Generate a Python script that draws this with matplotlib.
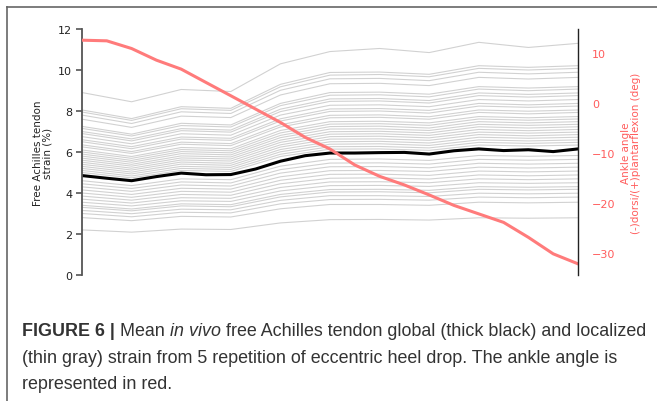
import matplotlib
matplotlib.use("Agg")
import matplotlib.pyplot as plt
from matplotlib.lines import Line2D

# time base (% of the eccentric heel drop)
t_coarse = [0, 10, 20, 30, 40, 50, 60, 70, 80, 90, 100]
t_fine = [0, 5, 10, 15, 20, 25, 30, 35, 40, 45, 50,
          55, 60, 65, 70, 75, 80, 85, 90, 95, 100]

# localized strain (%), one row per tendon region
local_strain = [
    [8.9, 8.45, 9.05, 8.95, 10.3, 10.9, 11.05, 10.85, 11.35, 11.1, 11.3],
    [8.05, 7.63, 8.21, 8.13, 9.30, 9.88, 9.90, 9.79, 10.21, 10.13, 10.21],
    [7.95, 7.54, 8.11, 8.03, 9.18, 9.75, 9.78, 9.67, 10.08, 10.0, 10.08],
    [7.8, 7.39, 7.96, 7.88, 9.01, 9.57, 9.59, 9.48, 9.89, 9.81, 9.89],
    [7.6, 7.2, 7.75, 7.68, 8.78, 9.33, 9.35, 9.24, 9.64, 9.56, 9.64],
    [7.25, 6.87, 7.4, 7.32, 8.37, 8.9, 8.92, 8.82, 9.19, 9.12, 9.19],
    [7.15, 6.78, 7.29, 7.22, 8.26, 8.77, 8.79, 8.69, 9.07, 8.99, 9.07],
    [7.0, 6.64, 7.14, 7.07, 8.09, 8.59, 8.61, 8.51, 8.88, 8.81, 8.88],
    [6.9, 6.54, 7.04, 6.97, 7.97, 8.47, 8.49, 8.39, 8.75, 8.68, 8.75],
    [6.75, 6.4, 6.89, 6.82, 7.8, 8.28, 8.3, 8.21, 8.56, 8.49, 8.56],
    [6.6, 6.26, 6.73, 6.67, 7.62, 8.1, 8.12, 8.03, 8.37, 8.3, 8.37],
    [6.5, 6.16, 6.63, 6.57, 7.51, 7.98, 8.0, 7.9, 8.24, 8.18, 8.24],
    [6.35, 6.02, 6.48, 6.41, 7.33, 7.79, 7.81, 7.72, 8.05, 7.99, 8.05],
    [6.25, 5.93, 6.38, 6.31, 7.22, 7.67, 7.69, 7.6, 7.93, 7.86, 7.93],
    [6.1, 5.78, 6.22, 6.16, 7.05, 7.48, 7.5, 7.42, 7.73, 7.67, 7.73],
    [6.0, 5.69, 6.12, 6.06, 6.93, 7.36, 7.38, 7.3, 7.61, 7.55, 7.61],
    [5.9, 5.59, 6.02, 5.96, 6.81, 7.24, 7.26, 7.17, 7.48, 7.42, 7.48],
    [5.8, 5.5, 5.92, 5.86, 6.7, 7.12, 7.13, 7.05, 7.35, 7.3, 7.35],
    [5.7, 5.4, 5.81, 5.76, 6.58, 6.99, 7.01, 6.93, 7.23, 7.17, 7.23],
    [5.6, 5.31, 5.71, 5.66, 6.47, 6.87, 6.89, 6.81, 7.1, 7.04, 7.1],
    [5.5, 5.21, 5.61, 5.56, 6.35, 6.75, 6.77, 6.69, 6.97, 6.92, 6.97],
    [5.4, 5.12, 5.51, 5.45, 6.24, 6.63, 6.64, 6.57, 6.85, 6.79, 6.85],
    [5.3, 5.02, 5.41, 5.35, 6.12, 6.5, 6.52, 6.44, 6.72, 6.67, 6.72],
    [5.2, 4.93, 5.3, 5.25, 6.01, 6.38, 6.4, 6.32, 6.59, 6.54, 6.59],
    [5.1, 4.83, 5.2, 5.15, 5.89, 6.26, 6.27, 6.2, 6.47, 6.42, 6.47],
    [5.0, 4.74, 5.1, 5.05, 5.78, 6.14, 6.15, 6.08, 6.34, 6.29, 6.34],
    [4.6, 4.36, 4.69, 4.65, 5.31, 5.64, 5.66, 5.59, 5.83, 5.79, 5.83],
    [4.45, 4.22, 4.54, 4.49, 5.14, 5.46, 5.47, 5.41, 5.64, 5.6, 5.64],
    [4.3, 4.08, 4.39, 4.34, 4.97, 5.28, 5.29, 5.23, 5.45, 5.41, 5.45],
    [4.15, 3.93, 4.23, 4.19, 4.79, 5.09, 5.1, 5.05, 5.26, 5.22, 5.26],
    [4.0, 3.79, 4.08, 4.04, 4.62, 4.91, 4.92, 4.86, 5.07, 5.03, 5.07],
    [3.85, 3.65, 3.93, 3.89, 4.45, 4.72, 4.74, 4.68, 4.88, 4.84, 4.88],
    [3.7, 3.51, 3.77, 3.74, 4.27, 4.54, 4.55, 4.5, 4.69, 4.65, 4.69],
    [3.55, 3.37, 3.62, 3.59, 4.1, 4.36, 4.37, 4.32, 4.5, 4.47, 4.5],
    [3.4, 3.22, 3.47, 3.43, 3.93, 4.17, 4.18, 4.13, 4.31, 4.28, 4.31],
    [3.3, 3.13, 3.37, 3.33, 3.81, 4.05, 4.06, 4.01, 4.18, 4.15, 4.18],
    [3.15, 2.99, 3.21, 3.18, 3.64, 3.87, 3.87, 3.83, 3.99, 3.96, 3.99],
    [3.0, 2.84, 3.06, 3.03, 3.47, 3.68, 3.69, 3.65, 3.8, 3.77, 3.8],
    [2.8, 2.65, 2.86, 2.83, 3.23, 3.44, 3.44, 3.4, 3.55, 3.52, 3.55],
    [2.2, 2.09, 2.24, 2.22, 2.54, 2.7, 2.71, 2.68, 2.79, 2.77, 2.79],
]

# global strain (%)
global_strain = [4.85, 4.72, 4.6, 4.8, 4.97, 4.89, 4.9, 5.17, 5.55, 5.82, 5.95,
                 5.95, 5.97, 5.98, 5.9, 6.06, 6.15, 6.07, 6.11, 6.02, 6.15]

# ankle angle (deg)
ankle_angle = [12.6, 12.47, 10.93, 8.6, 6.8, 4.13, 1.47, -1.2, -3.87, -6.87, -9.2,
               -12.4, -14.67, -16.4, -18.4, -20.5, -22.2, -23.9, -26.9, -30.2, -32.2]

caption_lines = [
    [("FIGURE 6 | ", "bold", "normal"), ("Mean ", "normal", "normal"),
     ("in vivo", "normal", "italic"),
     (" free Achilles tendon global (thick black) and localized", "normal", "normal")],
    [("(thin gray) strain from 5 repetition of eccentric heel drop. The ankle angle is",
      "normal", "normal")],
    [("represented in red.", "normal", "normal")],
]

W, H = 657, 402
fig = plt.figure(figsize=(W / 100, H / 100), dpi=100)
ax = fig.add_axes([82 / W, 1 - 276 / H, (578 - 82) / W, (276 - 30) / H])

for row in local_strain:
    ax.plot(t_coarse, row, color="k", lw=0.8, alpha=0.18)
ax.plot(t_fine, global_strain, color="k", lw=2.2)

ax.set_xlim(0, 100)
ax.set_ylim(0, 12)
ax.set_yticks(range(0, 13, 2))
ax.set_xticks([])
for side in ("top", "bottom", "right"):
    ax.spines[side].set_visible(False)
ax.spines["left"].set_color("#555555")
ax.spines["left"].set_linewidth(1.3)
ax.tick_params(axis="y", colors="#555555", labelcolor="#222222", labelsize=8,
               length=4, width=1.2, pad=3)
ax.set_ylabel("Free Achilles tendon\nstrain (%)", fontsize=7.5, color="#222222",
              linespacing=1.0, labelpad=4)

ax2 = ax.twinx()
ax2.plot(t_fine, ankle_angle, color="#ff7b7b", lw=2.2)
ax2.set_xlim(0, 100)
for side in ("top", "bottom", "left"):
    ax2.spines[side].set_visible(False)
ax2.spines["right"].set_color("#222222")
ax2.spines["right"].set_linewidth(1.0)
ax2.set_yticks([-30, -20, -10, 0, 10])
ax2.tick_params(axis="y", labelcolor="#ff5c5c", labelsize=8, length=0, pad=10)
ax2.set_ylabel("Ankle angle\n(-)dorsi/(+)plantarflexion (deg)", fontsize=7.5,
               color="#ff5c5c", linespacing=1.0, labelpad=4)

# frame around the figure panel
fig.add_artist(Line2D([7 / W, 1], [1 - 8 / H, 1 - 8 / H], color="#666666", lw=1.2))
fig.add_artist(Line2D([7 / W, 7 / W], [0, 1 - 8 / H], color="#666666", lw=1.2))

# caption, built piece by piece so bold / italic runs sit inline
fig.canvas.draw()
renderer = fig.canvas.get_renderer()
cap_family = ["Liberation Sans", "DejaVu Sans"]
baselines = [336, 363, 389]
for pieces, base in zip(caption_lines, baselines):
    x = 22
    for txt, weight, style in pieces:
        t = fig.text(x / W, 1 - base / H, txt, fontsize=12.9, fontweight=weight,
                     fontstyle=style, family=cap_family, color="#333333",
                     va="baseline", ha="left")
        bb = t.get_window_extent(renderer=renderer)
        x += bb.width

fig.savefig("out.png", dpi=100)
